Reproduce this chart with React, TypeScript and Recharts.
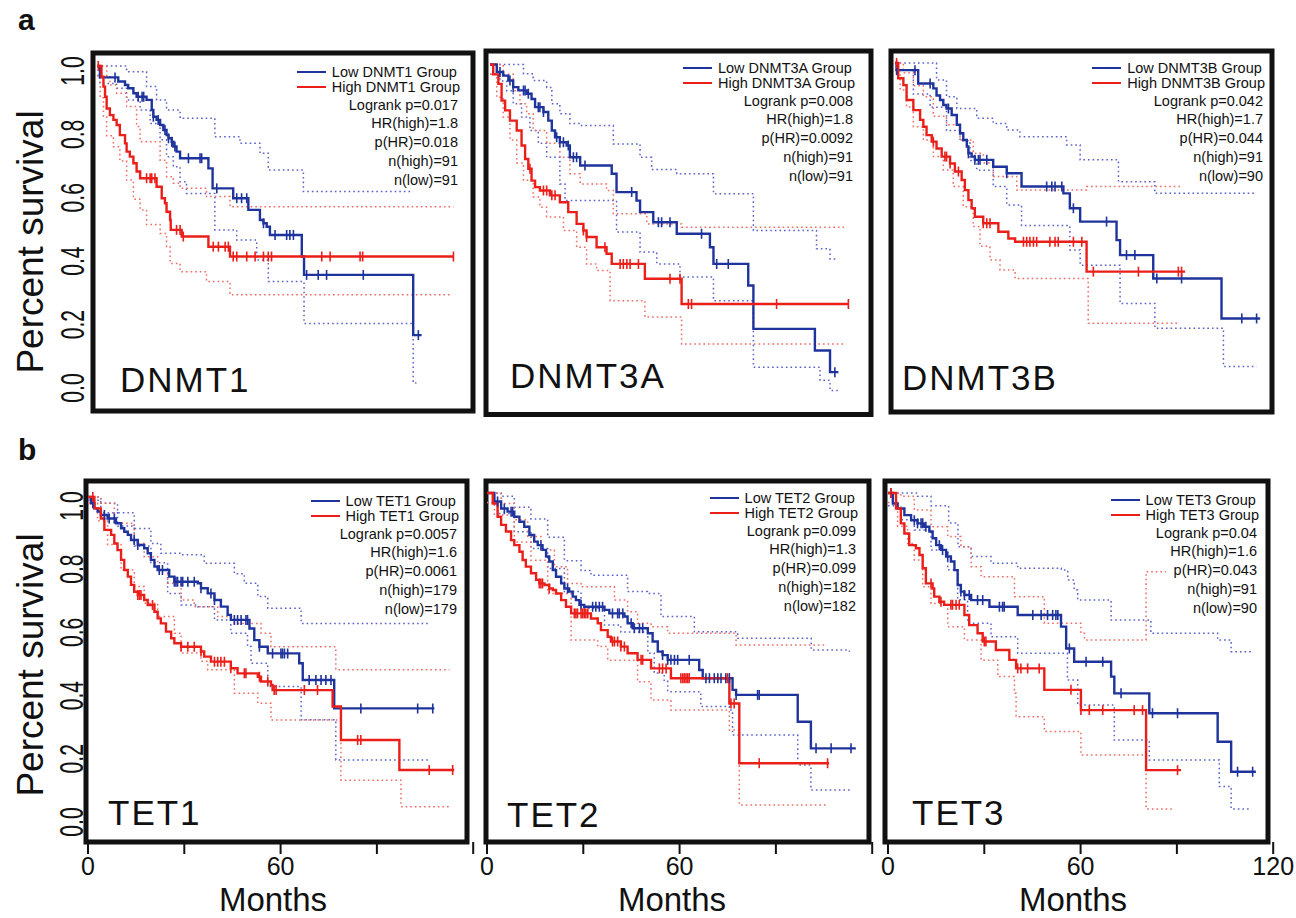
import React from 'react';
import { ComposedChart, Line, Scatter, XAxis, YAxis, ReferenceArea } from 'recharts';

type Pt = [number, number];

// tick labels
const monthTicks = [0, 30, 60, 90, 120];
const monthLabels = [0, 60];
const monthLabelsLast = [0, 60, 120];
const survTicks = [0, 0.2, 0.4, 0.6, 0.8, 1.0];

// ---- DNMT1 ----
const dnmt1Low: Pt[] = [[0,1],[0.9,0.964],[6.6,0.951],[8.7,0.94],[9.7,0.93],[11.3,0.914],[12.3,0.903],[15.4,0.893],[17,0.861],[17.5,0.84],[18.5,0.83],[19.6,0.814],[20.6,0.798],[21.6,0.782],[22.2,0.772],[23.2,0.761],[23.7,0.746],[24.7,0.73],[25.8,0.709],[34.6,0.677],[35.9,0.614],[42.3,0.583],[47,0.546],[50.6,0.514],[51.7,0.504],[52.7,0.493],[53.7,0.467],[63.6,0.399],[64.3,0.341],[98.2,0.151],[100.8,0.151]];
const dnmt1High: Pt[] = [[0,1],[1.4,0.966],[2,0.935],[2.5,0.903],[3,0.866],[4,0.845],[5.1,0.83],[6.1,0.814],[7.1,0.782],[8.7,0.756],[9.2,0.73],[10.2,0.714],[11.3,0.693],[12.3,0.667],[13.4,0.646],[18.5,0.619],[20.1,0.583],[21.1,0.567],[21.6,0.54],[22.7,0.514],[22.9,0.483],[26.3,0.462],[34.6,0.43],[41.3,0.399],[110.7,0.399]];
const dnmt1LowUp: Pt[] = [[0,1],[9.2,0.982],[15.4,0.935],[18.5,0.893],[21.6,0.861],[25.8,0.835],[36.6,0.777],[44.4,0.756],[50.6,0.725],[53.2,0.672],[64.1,0.604],[98.2,0.604]];
const dnmt1LowDn: Pt[] = [[0,0.97],[0.9,0.945],[6.1,0.93],[9.2,0.893],[13.4,0.861],[16.5,0.819],[19.6,0.767],[21.6,0.714],[23.7,0.682],[25.8,0.635],[27.8,0.598],[36.6,0.483],[43.4,0.451],[49.6,0.388],[53.2,0.32],[64.3,0.188],[98.2,0],[99.2,0]];
const dnmt1HighUp: Pt[] = [[0,1],[3,0.97],[4,0.94],[6.1,0.914],[9.2,0.872],[12.3,0.809],[13.4,0.761],[19.6,0.703],[21.6,0.651],[23.7,0.63],[25.8,0.614],[34,0.588],[41.3,0.556],[110.7,0.556]];
const dnmt1HighDn: Pt[] = [[0,0.97],[1,0.9],[2,0.84],[3,0.78],[5.1,0.745],[7.1,0.7],[9.2,0.64],[11.3,0.58],[13.4,0.546],[15.4,0.5],[19.6,0.472],[21.6,0.43],[22.7,0.377],[25.8,0.351],[34,0.32],[41.3,0.278],[110.2,0.278]];
const dnmt1LowCens = [5.6,12.8,14,14.5,17.5,19,21.1,22.2,23.2,24.2,28.4,32,32.5,37.2,43.4,44.9,46.5,51.7,55.3,58.9,59.9,61,65.1,68.7,71.3,82.7,99.8];
const dnmt1HighCens = [0.4,15.4,16.5,17,18,24.7,25.8,26.8,36.1,37.7,39.8,40.8,42.3,43.4,46.5,49.1,51.7,53.2,54.2,69.8,72.4,81.7,82.5,110.7];
const dnmt1Stats = ['Logrank p=0.017', 'HR(high)=1.8', 'p(HR)=0.018', 'n(high)=91', 'n(low)=91'];

// ---- DNMT3A ----
const dnmt3aLow: Pt[] = [[0,1],[2.1,0.977],[4.1,0.966],[5.7,0.951],[7.2,0.931],[8.8,0.921],[11.4,0.911],[12.9,0.895],[14,0.87],[16.6,0.855],[18.1,0.829],[19.2,0.799],[20.2,0.778],[21.7,0.763],[23.8,0.753],[24.8,0.717],[28,0.692],[37.8,0.667],[39.3,0.611],[45.5,0.585],[46.6,0.55],[50.7,0.519],[58,0.484],[68.3,0.443],[69.4,0.392],[80.2,0.326],[81.8,0.194],[100.9,0.128],[105.6,0.062],[108.2,0.062]];
const dnmt3aHigh: Pt[] = [[0,1],[1,0.97],[2.6,0.941],[3.6,0.89],[4.7,0.86],[6.2,0.829],[8.3,0.799],[9.8,0.753],[10.9,0.712],[11.9,0.682],[12.9,0.646],[14,0.626],[15.5,0.616],[18.6,0.601],[21.7,0.58],[24.3,0.55],[26.9,0.514],[29,0.494],[30,0.474],[33.1,0.443],[36.2,0.423],[37.8,0.392],[48.1,0.347],[59.5,0.27],[111.3,0.27]];
const dnmt3aLowUp: Pt[] = [[0,1],[10.4,0.972],[13.4,0.951],[17.6,0.93],[19.2,0.88],[21.7,0.85],[24.8,0.82],[28,0.814],[38.3,0.758],[46.6,0.717],[50.2,0.68],[58,0.667],[69.4,0.606],[81.8,0.494],[101.4,0.438],[105.6,0.407],[107.7,0.407]];
const dnmt3aLowDn: Pt[] = [[0,0.97],[3.1,0.95],[5.2,0.92],[7.2,0.88],[9.8,0.84],[12.4,0.799],[15,0.76],[17.6,0.717],[21.7,0.636],[23.3,0.585],[39.3,0.489],[46.6,0.428],[51.8,0.392],[59,0.352],[69.4,0.28],[81.8,0.077],[102.5,0.037],[105.6,0.006],[108,0.006]];
const dnmt3aHighUp: Pt[] = [[0,1],[4.1,0.97],[7.2,0.92],[9.3,0.88],[11.4,0.85],[13.4,0.799],[17.6,0.76],[21.7,0.717],[24.8,0.667],[28,0.636],[36.2,0.616],[38.3,0.545],[48.7,0.514],[59.5,0.504],[110.3,0.504]];
const dnmt3aHighDn: Pt[] = [[0,0.97],[2.1,0.9],[4.1,0.84],[6.2,0.77],[8.3,0.7],[10.4,0.647],[13.4,0.596],[15.5,0.565],[17.6,0.535],[22.8,0.494],[26.9,0.443],[30,0.392],[33.1,0.372],[37.3,0.28],[48.1,0.23],[59.5,0.148],[109.7,0.148]];
const dnmt3aLowCens = [3.1,6.2,7.2,10.4,10.9,11.9,15,15.5,16.6,20.7,21.7,22.8,24.3,25.9,26.9,29.5,44,52.3,53.3,55.9,65.7,70.4,74,107.1];
const dnmt3aHighCens = [12.4,16.6,17.6,19.2,20.2,29,30,35.7,40.4,41.4,42.5,43.5,46.1,55.9,59,61.6,62.6,89,111.3];
const dnmt3aStats = ['Logrank p=0.008', 'HR(high)=1.8', 'p(HR)=0.0092', 'n(high)=91', 'n(low)=91'];

// ---- DNMT3B ----
const dnmt3bLow: Pt[] = [[0,1],[0.5,0.978],[7.2,0.937],[11.9,0.922],[12.9,0.9],[14,0.886],[15,0.871],[16,0.86],[17.6,0.84],[19.2,0.81],[20.2,0.784],[21.2,0.763],[22.3,0.743],[22.8,0.722],[23.8,0.712],[24.8,0.702],[30.5,0.681],[34.7,0.661],[39.3,0.62],[52.3,0.599],[54.3,0.553],[57.5,0.512],[68.8,0.455],[69.9,0.409],[80.2,0.337],[101.4,0.214],[113.4,0.214]];
const dnmt3bHigh: Pt[] = [[0,1],[1,0.953],[2.6,0.932],[3.6,0.886],[5.7,0.855],[7.8,0.825],[8.8,0.804],[9.8,0.778],[11.4,0.758],[12.9,0.737],[14.5,0.712],[17.1,0.691],[18.6,0.666],[20.7,0.64],[21.7,0.609],[22.8,0.578],[23.8,0.553],[24.8,0.527],[27.4,0.507],[32.1,0.481],[35.2,0.46],[37.3,0.45],[59.5,0.358],[90.1,0.358]];
const dnmt3bLowUp: Pt[] = [[0,1],[12.9,0.948],[16,0.896],[19.2,0.86],[25.4,0.83],[30.5,0.814],[34.7,0.794],[38.8,0.773],[53.3,0.748],[57.5,0.702],[69.4,0.635],[80.7,0.599],[111.8,0.599]];
const dnmt3bLowDn: Pt[] = [[0,0.978],[5.7,0.905],[10.9,0.864],[16,0.792],[20.2,0.761],[23.3,0.7],[25.4,0.67],[30.5,0.62],[34.7,0.563],[39.3,0.5],[54.3,0.425],[57.5,0.378],[69.9,0.26],[80.7,0.184],[102,0.066],[112.3,0.066]];
const dnmt3bHighUp: Pt[] = [[0,1],[2.6,0.97],[5.7,0.93],[8.8,0.896],[11.9,0.836],[16,0.81],[20.2,0.763],[24.3,0.722],[27.4,0.692],[30.5,0.651],[37.8,0.609],[59.5,0.62],[88.6,0.62]];
const dnmt3bHighDn: Pt[] = [[0,0.978],[1.6,0.917],[3.6,0.865],[5.7,0.804],[8.8,0.763],[11.9,0.712],[15,0.671],[18.1,0.62],[21.2,0.558],[24.3,0.497],[26.4,0.436],[29.5,0.394],[32.6,0.363],[37.3,0.337],[60,0.199],[88,0.199]];
const dnmt3bLowCens = [0.5,6.2,10.9,16.6,22.8,24.8,25.9,26.4,28.5,34.7,47.1,48.7,49.7,51.8,55.4,65.7,71.9,74.5,81.3,89,107.7,112.3];
const dnmt3bHighCens = [0.5,11.9,15.5,16,17.1,19.7,27.4,28.5,29.5,39.9,40.9,41.9,43,44,48.1,49.7,50.7,55.4,58,61.6,75.6,88,89];
const dnmt3bStats = ['Logrank p=0.042', 'HR(high)=1.7', 'p(HR)=0.044', 'n(high)=91', 'n(low)=90'];

// ---- TET1 ----
const tet1Low: Pt[] = [[0,1],[0.9,0.98],[2,0.964],[3,0.954],[4,0.943],[6.1,0.932],[8.7,0.917],[10.3,0.901],[11.3,0.89],[12.4,0.88],[13.4,0.864],[15.5,0.848],[17.5,0.838],[18.6,0.822],[19.6,0.801],[20.7,0.78],[21.7,0.769],[25.3,0.748],[26.9,0.732],[34.2,0.727],[35.2,0.711],[37.3,0.695],[39.4,0.674],[41.4,0.653],[43.5,0.627],[44.5,0.611],[50.3,0.584],[51.8,0.547],[53.4,0.526],[56,0.505],[65.8,0.474],[66.9,0.421],[76.7,0.331],[107.9,0.331]];
const tet1High: Pt[] = [[0,1],[2,0.964],[4,0.932],[5.1,0.896],[7.2,0.88],[8.2,0.853],[9.2,0.832],[10.3,0.801],[11.3,0.769],[12.4,0.748],[13.4,0.722],[14.4,0.7],[15.5,0.69],[17.5,0.674],[18.6,0.658],[20.7,0.637],[21.7,0.616],[22.7,0.6],[24.3,0.574],[25.9,0.553],[26.9,0.537],[29,0.526],[35.2,0.511],[36.2,0.495],[38.3,0.479],[44.5,0.458],[46.6,0.442],[52.9,0.431],[53.9,0.416],[57,0.405],[57.5,0.389],[76.2,0.337],[78.8,0.231],[97,0.136],[114.1,0.136]];
const tet1LowUp: Pt[] = [[0,1],[4,0.98],[9.2,0.95],[14.4,0.9],[19.6,0.853],[22.7,0.822],[28.9,0.817],[36.2,0.79],[45.6,0.757],[48.7,0.727],[52.9,0.685],[56,0.648],[66.4,0.6],[106.8,0.6]];
const tet1LowDn: Pt[] = [[0,0.99],[4,0.95],[9.2,0.908],[14.4,0.845],[19.6,0.792],[24.8,0.695],[29,0.658],[34.2,0.653],[39.4,0.611],[44.5,0.569],[49.7,0.527],[50.8,0.474],[56,0.4],[66.4,0.295],[77.2,0.168],[106.8,0.168]];
const tet1HighUp: Pt[] = [[0,1],[4,0.98],[8.2,0.917],[14.4,0.853],[17.5,0.811],[21.7,0.769],[24.8,0.727],[29,0.674],[33.1,0.653],[40.4,0.622],[45.6,0.6],[53.9,0.569],[57,0.526],[77.2,0.453],[112.6,0.453]];
const tet1HighDn: Pt[] = [[0,0.98],[3,0.925],[6.1,0.85],[10.3,0.769],[14.4,0.717],[17.5,0.664],[21.7,0.622],[26.9,0.569],[29,0.506],[35.2,0.48],[37.3,0.453],[45.6,0.379],[52.9,0.347],[57,0.294],[78.8,0.104],[97.5,0.02],[113.1,0.02]];
const tet1LowCens = [1.5,5.1,6.6,8.2,14.4,15.5,22.2,23.2,26.9,27.4,27.9,29,29.5,31.1,33.1,35.2,38.3,39.4,45.6,46.6,47.7,49.2,49.7,53.4,57.5,60.1,60.6,61.2,62.2,68.9,71,72.6,74.1,75.7,85,102.7,107.4];
const tet1HighCens = [1.5,15.5,16,16.5,20.1,29,31.1,33.1,35.2,39.4,40.4,41.4,42.5,44.5,48.7,49.2,53.4,56,58,58.6,67.4,71.5,84,85,106.3,113.6];
const tet1Stats = ['Logrank p=0.0057', 'HR(high)=1.6', 'p(HR)=0.0061', 'n(high)=179', 'n(low)=179'];

// ---- TET2 ----
const tet2Low: Pt[] = [[0,1],[2.3,0.973],[4.4,0.951],[6.4,0.941],[8.5,0.925],[10.1,0.909],[11.6,0.893],[13.2,0.867],[14.7,0.846],[15.8,0.835],[17.3,0.82],[18.4,0.799],[19.4,0.783],[20.5,0.756],[21.5,0.735],[23.1,0.714],[24.1,0.698],[25.6,0.688],[26.7,0.672],[27.7,0.661],[28.8,0.646],[30.3,0.64],[36.6,0.63],[38.1,0.619],[42.8,0.609],[43.8,0.588],[45.4,0.572],[50.1,0.556],[51.6,0.53],[53.2,0.498],[54.7,0.487],[56.3,0.472],[66.1,0.44],[67.2,0.414],[76.5,0.377],[77.6,0.361],[96.8,0.276],[100.9,0.192],[114.9,0.192]];
const tet2High: Pt[] = [[0,1],[1.8,0.967],[3.3,0.925],[4.4,0.899],[5.9,0.878],[7.5,0.851],[8.5,0.835],[10.1,0.814],[11.1,0.788],[12.1,0.767],[13.7,0.746],[15.3,0.725],[16.3,0.714],[17.9,0.709],[19.4,0.698],[20.5,0.693],[21.5,0.682],[23.1,0.661],[24.6,0.64],[26.2,0.619],[32.4,0.603],[34.5,0.588],[35.5,0.566],[37.6,0.545],[38.6,0.53],[41.7,0.514],[43.8,0.493],[46.9,0.472],[51.1,0.445],[57.3,0.414],[75.5,0.334],[78.6,0.145],[106.6,0.145]];
const tet2LowUp: Pt[] = [[0,1],[4.4,0.99],[8.5,0.955],[13.7,0.918],[18.9,0.86],[24.1,0.786],[29.3,0.755],[32.4,0.74],[43.8,0.688],[50,0.682],[54.2,0.609],[64.6,0.561],[78.1,0.54],[96.8,0.54],[101,0.503],[112.9,0.498]];
const tet2LowDn: Pt[] = [[0,0.97],[3.3,0.935],[8.5,0.877],[13.7,0.824],[18.9,0.761],[24.1,0.688],[29.3,0.635],[36.6,0.582],[41.7,0.56],[50.1,0.493],[52.1,0.43],[55.2,0.404],[56.3,0.371],[66.6,0.324],[75.5,0.313],[76.5,0.234],[96.8,0.139],[100.9,0.06],[113.9,0.06]];
const tet2HighUp: Pt[] = [[0,1],[4.4,0.967],[8.5,0.915],[12.7,0.862],[16.8,0.82],[21,0.767],[25.1,0.714],[29.3,0.703],[39.7,0.661],[43.8,0.624],[46.9,0.588],[51.1,0.577],[56.3,0.556],[77.6,0.519],[105.1,0.519]];
const tet2HighDn: Pt[] = [[0,0.97],[2.3,0.93],[8.5,0.845],[13.7,0.787],[18.9,0.682],[26.2,0.535],[34.5,0.514],[37.6,0.471],[46.9,0.403],[51.1,0.345],[57.3,0.313],[75.5,0.25],[78.6,0.013],[106.1,0.013]];
const tet2LowCens = [3.3,5.4,7.5,8,16.8,25.1,29.3,32.9,33.9,35,36,39.1,40.7,41.2,42.3,44.9,45.9,47.5,48.5,54.7,56.3,57.3,58.4,59.4,63,68.2,69.3,70.8,71.9,72.9,74.4,75.5,77.6,84.3,84.8,102.5,107.2,113.4];
const tet2HighCens = [16.3,16.8,17.3,19.4,27.2,27.7,28.2,29.3,29.8,30.3,30.8,31.4,39.1,39.7,40.7,41.7,42.8,48,48.5,53.7,54.7,55.8,60.4,61,61.5,62,62.5,63,74.9,76,77,84.8,106.1];
const tet2Stats = ['Logrank p=0.099', 'HR(high)=1.3', 'p(HR)=0.099', 'n(high)=182', 'n(low)=182'];

// ---- TET3 ----
const tet3Low: Pt[] = [[0,1],[1.5,0.967],[3,0.951],[5.1,0.93],[7.2,0.914],[9.2,0.904],[11.3,0.893],[12.9,0.878],[13.9,0.857],[15,0.835],[16.5,0.82],[18.1,0.799],[19.6,0.783],[20.7,0.756],[21.7,0.709],[22.7,0.688],[23.8,0.677],[25.9,0.661],[31.6,0.64],[40.4,0.614],[53.9,0.577],[55.5,0.508],[58,0.466],[69.5,0.419],[70.5,0.366],[81.4,0.303],[102.7,0.213],[106.9,0.118],[114.6,0.118]];
const tet3High: Pt[] = [[0,1],[2.5,0.951],[4,0.904],[5.1,0.872],[6.6,0.835],[8.7,0.825],[9.8,0.804],[10.8,0.762],[11.8,0.714],[13.9,0.698],[14.4,0.672],[16,0.656],[17.5,0.646],[23.8,0.614],[25.3,0.582],[27.9,0.556],[29.5,0.53],[33.6,0.503],[37.8,0.472],[39.9,0.445],[48.7,0.377],[60.1,0.313],[80.4,0.123],[91.3,0.123]];
const tet3LowUp: Pt[] = [[0,1],[9.2,0.99],[13.4,0.96],[18.9,0.905],[21.8,0.83],[25.9,0.799],[32.1,0.778],[40.4,0.762],[54,0.756],[56,0.725],[58,0.693],[59.1,0.661],[69.5,0.598],[81.9,0.556],[102.7,0.535],[106.9,0.498],[113.1,0.498]];
const tet3LowDn: Pt[] = [[0,0.96],[4,0.915],[8.2,0.883],[13.4,0.82],[18.6,0.757],[21.7,0.662],[24.8,0.588],[32.1,0.545],[40.4,0.493],[55.9,0.408],[59.1,0.329],[70.5,0.218],[81.4,0.155],[103.2,0.071],[106.9,0],[113.1,0]];
const tet3HighUp: Pt[] = [[0,1],[4,0.99],[8.2,0.946],[13.4,0.893],[18.6,0.862],[22.7,0.83],[25.9,0.767],[29,0.735],[39.4,0.672],[48.7,0.588],[60.1,0.556],[61.2,0.535],[80.4,0.751],[86.6,0.751]];
const tet3HighDn: Pt[] = [[0,0.97],[3,0.895],[6.1,0.84],[8.2,0.788],[10.8,0.703],[13.4,0.65],[18.6,0.577],[23.8,0.535],[29,0.471],[34.2,0.419],[39.4,0.366],[39.9,0.292],[48.7,0.245],[60.1,0.171],[80.4,0],[89.2,0]];
const tet3LowCens = [0.9,8.2,9.2,10.3,10.8,11.8,16,17,18.6,22.7,23.8,25.3,27.9,29.5,34.7,35.7,36.2,45.1,47.7,49.7,51.3,52.3,52.9,56.5,61.7,66.9,72.6,82.4,90.2,108.9,113.6];
const tet3HighCens = [0.9,13.4,16.5,19.6,20.1,21.2,22.2,30,30.5,40.4,41.4,43.5,47.1,57,60.1,62.7,66.9,76.7,79.3,90.2];
const tet3Stats = ['Logrank p=0.04', 'HR(high)=1.6', 'p(HR)=0.043', 'n(high)=91', 'n(low)=90'];

const FONT = '"Liberation Sans", Arial, Helvetica, sans-serif';
const BLUE = '#1f339c';
const RED = '#ea1f1a';
const BLUE_CI = '#5961cc';
const RED_CI = '#f26a62';
const INK = '#111';

const survAt = (curve: Pt[], t: number) => {
  let s = curve[0][1];
  for (const [m, v] of curve) {
    if (m <= t) s = v;
    else break;
  }
  return s;
};
const toRows = (curve: Pt[]) => curve.map(([m, s]) => ({ m, s }));
const censRows = (curve: Pt[], times: number[]) => times.map((m) => ({ m, s: survAt(curve, m) }));

const CensorTick = (color: string) => (props: any) => {
  const { cx, cy } = props;
  if (cx == null || cy == null) return <g />;
  return <line x1={cx} x2={cx} y1={cy - 5} y2={cy + 5} stroke={color} strokeWidth={1.6} />;
};

interface PanelDef {
  gene: string;
  low: Pt[]; high: Pt[];
  lowUp: Pt[]; lowDn: Pt[]; highUp: Pt[]; highDn: Pt[];
  lowCens: number[]; highCens: number[];
  stats: string[];
  // layout (page pixels)
  L: number; R: number; T: number; B: number;
  x0: number; y1: number; y0: number; ppm: number;
  showY: boolean; showX: boolean; yDy: number;
  xLabels?: number[];
  legRight: number; legTop: number;
  geneX: number; geneBase: number;
  monthsX?: number;
}

const panels: PanelDef[] = [
  { gene: 'DNMT1', low: dnmt1Low, high: dnmt1High, lowUp: dnmt1LowUp, lowDn: dnmt1LowDn, highUp: dnmt1HighUp, highDn: dnmt1HighDn, lowCens: dnmt1LowCens, highCens: dnmt1HighCens, stats: dnmt1Stats,
    L: 93, R: 473, T: 53, B: 411, x0: 97, y1: 66, y0: 383, ppm: 3.22, showY: true, showX: false, yDy: 5, legRight: 460, legTop: 72, geneX: 120, geneBase: 392 },
  { gene: 'DNMT3A', low: dnmt3aLow, high: dnmt3aHigh, lowUp: dnmt3aLowUp, lowDn: dnmt3aLowDn, highUp: dnmt3aHighUp, highDn: dnmt3aHighDn, lowCens: dnmt3aLowCens, highCens: dnmt3aHighCens, stats: dnmt3aStats,
    L: 486, R: 871, T: 50.5, B: 414, x0: 490, y1: 64, y0: 392, ppm: 3.22, showY: false, showX: false, yDy: 0, legRight: 855, legTop: 68, geneX: 510, geneBase: 388 },
  { gene: 'DNMT3B', low: dnmt3bLow, high: dnmt3bHigh, lowUp: dnmt3bLowUp, lowDn: dnmt3bLowDn, highUp: dnmt3bHighUp, highDn: dnmt3bHighDn, lowCens: dnmt3bLowCens, highCens: dnmt3bHighCens, stats: dnmt3bStats,
    L: 891, R: 1272, T: 51, B: 412, x0: 895, y1: 63, y0: 388, ppm: 3.22, showY: false, showX: false, yDy: 0, legRight: 1265, legTop: 68, geneX: 902, geneBase: 390 },
  { gene: 'TET1', low: tet1Low, high: tet1High, lowUp: tet1LowUp, lowDn: tet1LowDn, highUp: tet1HighUp, highDn: tet1HighDn, lowCens: tet1LowCens, highCens: tet1HighCens, stats: tet1Stats,
    L: 86, R: 467, T: 481, B: 842, x0: 88, y1: 497, y0: 813, ppm: 3.21, showY: true, showX: true, yDy: 9, xLabels: monthLabels, legRight: 459, legTop: 501, geneX: 108, geneBase: 825, monthsX: 273 },
  { gene: 'TET2', low: tet2Low, high: tet2High, lowUp: tet2LowUp, lowDn: tet2LowDn, highUp: tet2HighUp, highDn: tet2HighDn, lowCens: tet2LowCens, highCens: tet2HighCens, stats: tet2Stats,
    L: 486, R: 869, T: 481, B: 842, x0: 487, y1: 493, y0: 809, ppm: 3.21, showY: false, showX: true, yDy: 0, xLabels: monthLabels, legRight: 858, legTop: 498, geneX: 507, geneBase: 827, monthsX: 672 },
  { gene: 'TET3', low: tet3Low, high: tet3High, lowUp: tet3LowUp, lowDn: tet3LowDn, highUp: tet3HighUp, highDn: tet3HighDn, lowCens: tet3LowCens, highCens: tet3HighCens, stats: tet3Stats,
    L: 885, R: 1268, T: 481, B: 842, x0: 888, y1: 493, y0: 809, ppm: 3.21, showY: false, showX: true, yDy: 0, xLabels: monthLabelsLast, legRight: 1259, legTop: 500, geneX: 912, geneBase: 825, monthsX: 1073 },
];

const Y_LABEL_W = 60;
const X_LABEL_H = 60;
const PAD = 4;

function Panel({ p }: { p: PanelDef }) {
  const ml = p.showY ? Y_LABEL_W : 0;
  const mb = p.showX ? X_LABEL_H : 0;
  const padL = p.showX && !p.showY ? 12 : PAD;
  const padR = p.showX ? 24 : PAD;
  const plotR = p.showX ? p.x0 + 121 * p.ppm : p.R;
  const width = plotR - p.L + ml + padL + padR;
  const height = p.B - p.T + mb + PAD * 2;
  const left = p.L - padL - ml;
  const top = p.T - PAD;
  const span = p.y0 - p.y1;
  const xmin = (p.L - p.x0) / p.ppm;
  const xmax = (plotR - p.x0) / p.ppm;
  const boxR = (p.R - p.x0) / p.ppm;
  const ymin = (p.y0 - p.B) / span;
  const ymax = (p.y0 - p.T) / span;
  const labelX = (p.showX ? 71 : 72) - left;
  const shown = p.xLabels || [];

  const YTick = (props: any) => {
    const { y, payload } = props;
    const ty = y + p.yDy;
    return (
      <text
        transform={`translate(${labelX},${ty}) rotate(-90) scale(0.62,1)`}
        textAnchor="middle"
        dominantBaseline="central"
        fontSize={34}
        fontFamily={FONT}
        fill={INK}
      >
        {Number(payload.value).toFixed(1)}
      </text>
    );
  };

  const XTick = (props: any) => {
    const { x, y, payload } = props;
    if (!shown.includes(payload.value)) return <g />;
    return (
      <text x={x} y={y} dy="0.71em" textAnchor="middle" fontSize={25} fontFamily={FONT} fill={INK}>
        {payload.value}
      </text>
    );
  };

  const ciProps = { type: 'stepAfter' as const, dot: false, strokeWidth: 1.5, strokeDasharray: '1.6 3', isAnimationActive: false, dataKey: 's' };
  const mainProps = { type: 'stepAfter' as const, dot: false, strokeWidth: 2.4, isAnimationActive: false, dataKey: 's' };

  return (
    <div style={{ position: 'absolute', left, top, width, height }}>
      <ComposedChart width={width} height={height} margin={{ top: PAD, right: padR, bottom: PAD, left: padL }}>
        <XAxis
          type="number"
          dataKey="m"
          domain={[xmin, xmax]}
          allowDataOverflow
          ticks={monthTicks}
          hide={!p.showX}
          height={mb}
          axisLine={false}
          tickLine={{ stroke: INK, strokeWidth: 2 }}
          tickSize={12}
          tickMargin={3}
          tick={XTick}
          interval={0}
        />
        <YAxis
          type="number"
          domain={[ymin, ymax]}
          allowDataOverflow
          ticks={survTicks}
          hide={!p.showY}
          width={ml}
          axisLine={false}
          tickLine={false}
          tick={YTick}
          interval={0}
        />
        <Line {...ciProps} data={toRows(p.lowUp)} stroke={BLUE_CI} />
        <Line {...ciProps} data={toRows(p.lowDn)} stroke={BLUE_CI} />
        <Line {...ciProps} data={toRows(p.highUp)} stroke={RED_CI} />
        <Line {...ciProps} data={toRows(p.highDn)} stroke={RED_CI} />
        <Line {...mainProps} data={toRows(p.low)} stroke={BLUE} />
        <Line {...mainProps} data={toRows(p.high)} stroke={RED} />
        <Scatter data={censRows(p.low, p.lowCens)} dataKey="s" shape={CensorTick(BLUE)} isAnimationActive={false} />
        <Scatter data={censRows(p.high, p.highCens)} dataKey="s" shape={CensorTick(RED)} isAnimationActive={false} />
        <ReferenceArea x1={xmin} x2={boxR} y1={ymin} y2={ymax} fill="none" fillOpacity={0} stroke={INK} strokeWidth={5} ifOverflow="visible" />
      </ComposedChart>
    </div>
  );
}

function LegendBlock({ p }: { p: PanelDef }) {
  const rightOff = 1296 - p.legRight;
  const swatch = (color: string) => (
    <span style={{ display: 'inline-block', width: 29, height: 0, borderTop: `2.5px solid ${color}`, marginRight: 6, verticalAlign: 'middle' }} />
  );
  return (
    <>
      <div style={{ position: 'absolute', right: rightOff, top: p.legTop - 7.5, fontFamily: FONT, fontSize: 14.5, lineHeight: '15px', color: INK, whiteSpace: 'nowrap' }}>
        <div style={{ display: 'flex', alignItems: 'center', height: 15 }}>{swatch(BLUE)}Low {p.gene} Group</div>
        <div style={{ display: 'flex', alignItems: 'center', height: 15 }}>{swatch(RED)}High {p.gene} Group</div>
      </div>
      <div style={{ position: 'absolute', right: rightOff + 2, top: p.legTop + 33 - 9.4, fontFamily: FONT, fontSize: 14.5, lineHeight: '18.8px', color: INK, textAlign: 'right', whiteSpace: 'nowrap' }}>
        {p.stats.map((s) => (
          <div key={s}>{s}</div>
        ))}
      </div>
    </>
  );
}

const textAbs = (extra: React.CSSProperties): React.CSSProperties => ({
  position: 'absolute',
  fontFamily: FONT,
  color: INK,
  whiteSpace: 'nowrap',
  ...extra,
});

export default function App() {
  return (
    <div style={{ position: 'absolute', left: 0, top: 0, width: 1296, height: 918, background: '#fff', overflow: 'hidden' }}>
      {panels.map((p) => (
        <Panel key={p.gene} p={p} />
      ))}
      {panels.map((p) => (
        <LegendBlock key={p.gene + '-leg'} p={p} />
      ))}
      {panels.map((p) => (
        <div key={p.gene + '-name'} style={textAbs({ left: p.geneX, top: p.geneBase - 29.6, fontSize: 35, lineHeight: '35px', letterSpacing: 2 })}>
          {p.gene}
        </div>
      ))}
      {panels.filter((p) => p.monthsX != null).map((p) => (
        <div key={p.gene + '-months'} style={textAbs({ left: p.monthsX, top: 885.5, fontSize: 33, lineHeight: '28px', transform: 'translateX(-50%)' })}>
          Months
        </div>
      ))}
      <div style={textAbs({ left: 30, top: 242, fontSize: 37, lineHeight: '37px', transform: 'translate(-50%, -50%) rotate(-90deg)' })}>Percent survival</div>
      <div style={textAbs({ left: 30, top: 665, fontSize: 37, lineHeight: '37px', transform: 'translate(-50%, -50%) rotate(-90deg)' })}>Percent survival</div>
      <div style={textAbs({ left: 18, top: 5, fontSize: 30, lineHeight: '30px', fontWeight: 'bold' })}>a</div>
      <div style={textAbs({ left: 18, top: 435, fontSize: 30, lineHeight: '30px', fontWeight: 'bold' })}>b</div>
    </div>
  );
}
